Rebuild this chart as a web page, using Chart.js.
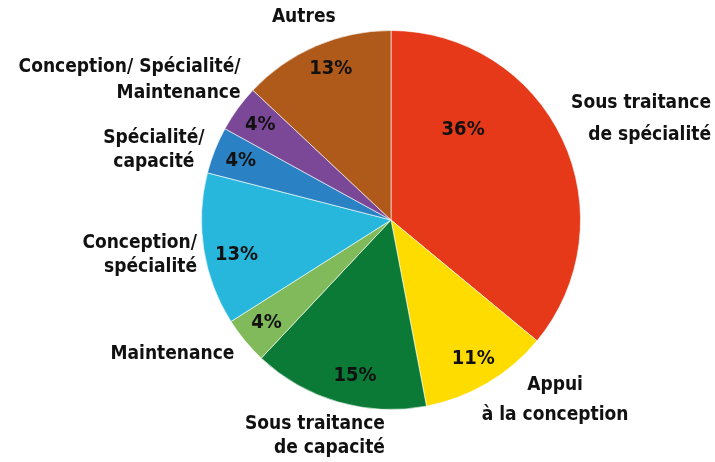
<!DOCTYPE html>
<html>
<head>
<meta charset="utf-8">
<script src="https://cdn.jsdelivr.net/npm/chart.js@4.4.1/dist/chart.umd.min.js"></script>
<style>
  html, body { margin: 0; padding: 0; background: #ffffff; }
  #wrap { width: 715px; height: 462px; }
</style>
</head>
<body>
<div id="wrap"><canvas id="pie" width="715" height="462"></canvas></div>
<script>
// data
const categories = [
  ['Sous traitance', 'de spécialité'],
  ['Appui', 'à la conception'],
  ['Sous traitance', 'de capacité'],
  ['Maintenance'],
  ['Conception/', 'spécialité'],
  ['Spécialité/', 'capacité'],
  ['Conception/ Spécialité/', 'Maintenance'],
  ['Autres']
]
const shares = [36, 11, 15, 4, 13, 4, 4, 13]
const colors = ['#E5391A', '#FFDC00', '#0A7A36', '#80BA5A', '#27B7DD', '#2A82C4', '#7B4897', '#AF5A1B']

// label placement: alignment, tweak from the computed anchor, line height
const outerLayout = [
  { align: 'right', dx: 135, dy: -14, lh: 32 },
  { align: 'center', dx: 60, dy: 4, lh: 30 },
  { align: 'right', dx: 51, dy: 20, lh: 24 },
  { align: 'right', dx: 1, dy: 4, lh: 26 },
  { align: 'right', dx: 8, dy: 3, lh: 24 },
  { align: 'center', dx: -47, dy: 5, lh: 24 },
  { align: 'right', dx: 15, dy: -20, lh: 26 },
  { align: 'center', dx: -6, dy: -15, lh: 26 }
]
const innerTweak = [[-74, -21], [0, 0], [9, 1], [0, 0], [5, 10], [0, 0], [0, 0], [4, -3]]

const FONT = "bold 19px 'DejaVu Sans Condensed', 'DejaVu Sans', sans-serif"
const PCT_FONT = "bold 20px 'DejaVu Sans Condensed', 'DejaVu Sans', sans-serif"

const labelPlugin = {
  id: 'pieLabels',
  afterDatasetsDraw(chart) {
    const ctx = chart.ctx
    const arcs = chart.getDatasetMeta(0).data
    ctx.save()
    ctx.fillStyle = '#111111'
    arcs.forEach((arc, i) => {
      const mid = (arc.startAngle + arc.endAngle) / 2
      const cx = arc.x, cy = arc.y, R = arc.outerRadius
      // percentage inside the slice
      const ri = R - 28
      ctx.font = PCT_FONT
      ctx.textAlign = 'center'
      ctx.textBaseline = 'middle'
      ctx.fillText(shares[i] + '%',
        cx + ri * Math.cos(mid) + innerTweak[i][0],
        cy + ri * Math.sin(mid) + innerTweak[i][1])
      // category name outside
      const ro = R + 15
      const L = outerLayout[i]
      const ax = cx + ro * Math.cos(mid) + L.dx
      const ay = cy + ro * Math.sin(mid) + L.dy
      const lines = categories[i]
      ctx.font = FONT
      ctx.textAlign = L.align
      const top = ay - (lines.length - 1) * L.lh / 2
      lines.forEach((t, k) => ctx.fillText(t, ax, top + k * L.lh))
    })
    ctx.restore()
  }
}

new Chart(document.getElementById('pie'), {
  type: 'pie',
  data: {
    labels: categories.map(c => c.join(' ')),
    datasets: [{
      data: shares,
      backgroundColor: colors,
      borderColor: 'rgba(255,255,255,0.6)',
      borderWidth: 1
    }]
  },
  options: {
    responsive: false,
    animation: false,
    layout: { padding: { left: 201, right: 134, top: 30, bottom: 52 } },
    plugins: {
      legend: { display: false },
      tooltip: { enabled: false }
    }
  },
  plugins: [labelPlugin]
})
</script>
</body>
</html>
